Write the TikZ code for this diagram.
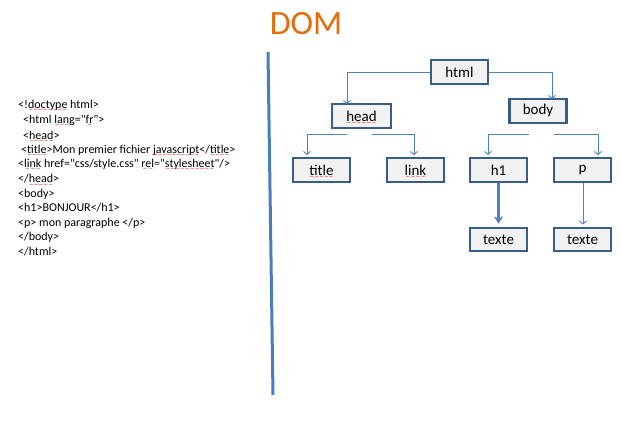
\documentclass[tikz,border=0pt]{standalone}
\usepackage{fontspec}
\setmainfont{Carlito}[Ligatures=TeXOff]
\newfontfamily\wavefont{DejaVu Sans}
\usetikzlibrary{arrows.meta}
\newsavebox\sqbox
\newcommand\waveunit{\hbox{{\color{red}\wavefont\fontsize{5.5}{5.5}\selectfont\char"223C}}}
\newcommand\redsq[1]{\sbox\sqbox{#1}\leavevmode\rlap{\raisebox{-3.6pt}[0pt][0pt]{\hbox to \wd\sqbox{\xleaders\waveunit\hfil}}}\usebox\sqbox}
\definecolor{boxborder}{HTML}{385D8A}
\definecolor{boxfill}{HTML}{F2F2F2}
\definecolor{conn}{HTML}{4F81BD}
\definecolor{sepcol}{HTML}{4A7EBB}
\definecolor{domorange}{HTML}{E46C0A}
\tikzset{
  treebox/.style={draw=boxborder, fill=boxfill, line width=2.4pt, minimum width=57pt, minimum height=23.5pt, inner sep=0pt, font=\fontsize{15}{16}\selectfont},
  connline/.style={draw=conn, line width=0.9pt, -{Straight Barb[length=3pt,width=7pt]}},
  thickconn/.style={draw=conn, line width=2.4pt, -{Stealth[length=7pt,width=9pt,inset=2pt]}},
  codeline/.style={anchor=west, inner sep=0pt, font=\fontsize{12}{13}\selectfont},
}
\begin{document}
\begin{tikzpicture}[x=1pt,y=-1pt]
\useasboundingbox (0,0) rectangle (622,444);
% title
\node[text=domorange, font=\fontsize{34}{36}\selectfont, inner sep=0pt] (dom) at (306,24) {DOM};
% separator
\draw[sepcol, line width=3pt] (268,52) -- (273,395);
% code
\node[codeline] (c1) at (18,105) {<!\redsq{doctype} html>};
\node[codeline] (c2) at (23,120) {<html \redsq{lang}="\redsq{fr}">};
\node[codeline] (c3) at (23,135) {<\redsq{head}>};
\node[codeline] (c4) at (21,150) {<\redsq{title}>Mon premier fichier \redsq{javascript}</\redsq{title}>};
\node[codeline] (c5) at (18,164) {<\redsq{link} href="css/style.css" \redsq{rel}="\redsq{stylesheet}"/>};
\node[codeline] (c6) at (18,179) {</\redsq{head}>};
\node[codeline] (c7) at (18,194) {<body>};
\node[codeline] (c8) at (18,208) {<h1>BONJOUR</h1>};
\node[codeline] (c9) at (18,223) {<p> mon paragraphe </p>};
\node[codeline] (c10) at (18,237) {</body>};
\node[codeline] (c11) at (18,252) {</html>};
% tree
\node[treebox] (html) at (459.5,72) {html};
\node[treebox, minimum width=59pt] (head) at (361.5,116) {\redsq{head}};
\node[treebox] (body) at (538,111) {body};
\node[treebox] (title) at (321.5,170) {\redsq{title}};
\node[treebox] (link) at (415.5,170) {\redsq{link}};
\node[treebox] (h1) at (498.5,170) {h1};
\node[treebox] (p) at (582.5,170) {p};
\node[treebox] (t1) at (498.5,239.5) {texte};
\node[treebox] (t2) at (582.5,239.5) {texte};
% connectors
\draw[connline] (html.west) -| ([xshift=-14.5pt,yshift=-1pt]head.north);
\draw[connline] (html.east) -| ([xshift=14pt,yshift=-1pt]body.north);
\coordinate (hs1) at (347,134);
\coordinate (hs2) at (372,134);
\coordinate (bs1) at (529,134);
\coordinate (bs2) at (554,134);
\draw[connline, shorten >=2pt] (hs1) -| ([xshift=-14.5pt]title.north);
\draw[connline, shorten >=2pt] (hs2) -| ([xshift=-1.5pt]link.north);
\draw[connline, shorten >=2pt] (bs1) -| ([xshift=-10.5pt]h1.north);
\draw[connline, shorten >=2pt] (bs2) -| ([xshift=15.5pt]p.north);
\draw[thickconn, shorten >=3pt] (h1.south) -- (t1.north);
\draw[connline, shorten >=2pt] ([xshift=0.5pt]p.south) -- ([xshift=0.5pt]t2.north);
\end{tikzpicture}
\end{document}
